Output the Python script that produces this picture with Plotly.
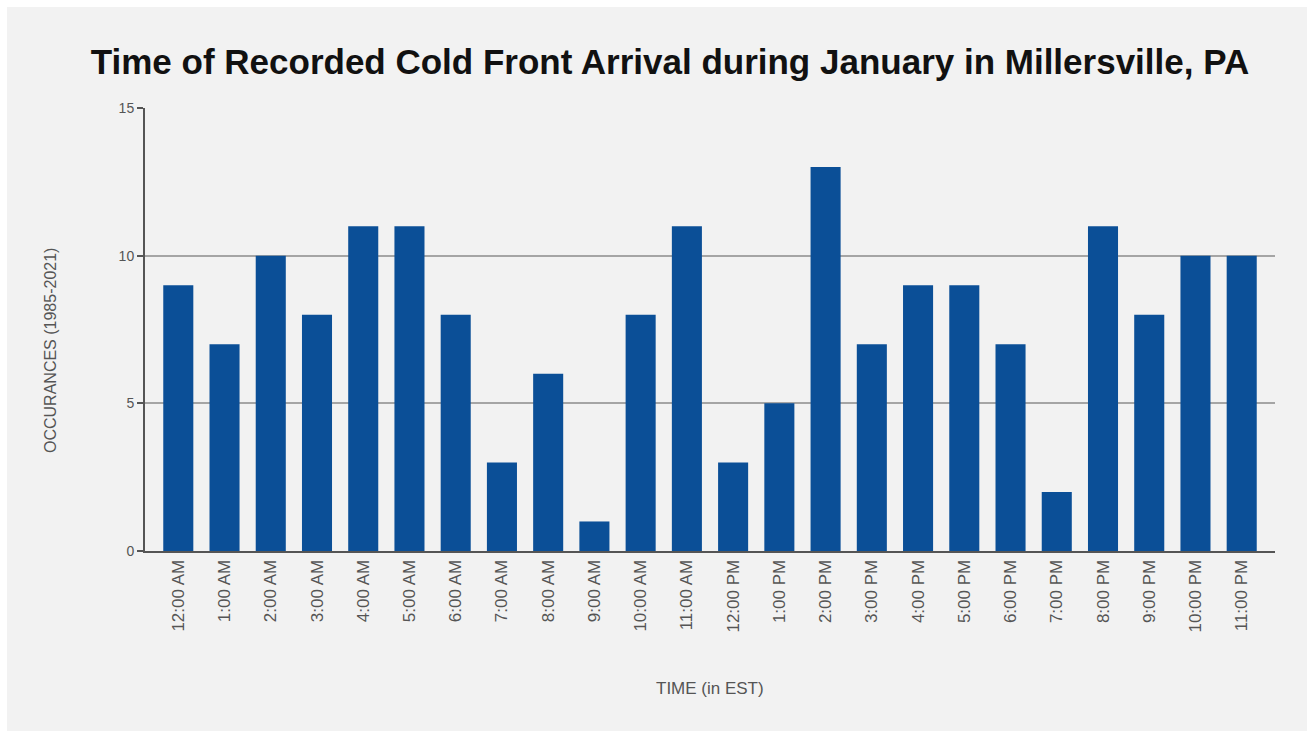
import plotly.graph_objects as go

hours = ["12:00 AM", "1:00 AM", "2:00 AM", "3:00 AM", "4:00 AM", "5:00 AM",
         "6:00 AM", "7:00 AM", "8:00 AM", "9:00 AM", "10:00 AM", "11:00 AM",
         "12:00 PM", "1:00 PM", "2:00 PM", "3:00 PM", "4:00 PM", "5:00 PM",
         "6:00 PM", "7:00 PM", "8:00 PM", "9:00 PM", "10:00 PM", "11:00 PM"]
occurrences = [9, 7, 10, 8, 11, 11, 8, 3, 6, 1, 8, 11,
               3, 5, 13, 7, 9, 9, 7, 2, 11, 8, 10, 10]
y_ticks = [0, 5, 10, 15]

W, H = 1307, 731
ML, MR, MT, MB = 145, 32, 108, 180
pw, ph = W - ML - MR, H - MT - MB


def px_x(x):
    return (x - ML) / pw


def px_y(y):
    return (H - MB - y) / ph


fig = go.Figure(go.Bar(
    x=list(range(len(hours))), y=occurrences,
    marker=dict(color="#0b4f97", line=dict(width=0)),
))

# light gray panel inside a thin white frame
fig.add_shape(type="rect", xref="paper", yref="paper", layer="below",
              x0=px_x(7), x1=px_x(W), y0=px_y(H), y1=px_y(7),
              fillcolor="#f2f2f2", line=dict(width=0))

# axis titles
fig.add_annotation(text="TIME (in EST)", xref="paper", yref="paper",
                   x=px_x(710), y=px_y(688), showarrow=False,
                   xanchor="center", yanchor="middle",
                   font=dict(size=17, color="#555"))
fig.add_annotation(text="OCCURANCES (1985-2021)", xref="paper", yref="paper",
                   x=px_x(50), y=px_y(351), showarrow=False, textangle=-90,
                   xanchor="center", yanchor="middle",
                   font=dict(size=16, color="#555"))

fig.update_layout(
    width=W, height=H,
    margin=dict(l=ML, r=MR, t=MT, b=MB),
    paper_bgcolor="white",
    plot_bgcolor="rgba(0,0,0,0)",
    bargap=0.35,
    showlegend=False,
    font=dict(family="Liberation Sans, Arial, sans-serif", color="#555"),
    title=dict(
        text="<b>Time of Recorded Cold Front Arrival during January in Millersville, PA</b>",
        x=670 / W, xanchor="center", y=1 - 62 / H, yanchor="middle",
        font=dict(size=35, color="#111"),
    ),
    xaxis=dict(
        range=[-0.72, len(hours) - 0.28],
        tickmode="array", tickvals=list(range(len(hours))), ticktext=hours,
        tickangle=-90, tickfont=dict(size=17, color="#555"),
        showgrid=False, showline=True, linecolor="#555", linewidth=2,
        ticks="", automargin=False,
    ),
    yaxis=dict(
        range=[0, 15], tickvals=y_ticks, tickfont=dict(size=14, color="#555"),
        showgrid=True, gridcolor="#a5a5a5", gridwidth=2,
        showline=True, linecolor="#555", linewidth=2,
        ticks="outside", ticklen=6, tickcolor="#555", tickwidth=2,
        zeroline=False, automargin=False,
    ),
)

fig.write_html("out.html")
